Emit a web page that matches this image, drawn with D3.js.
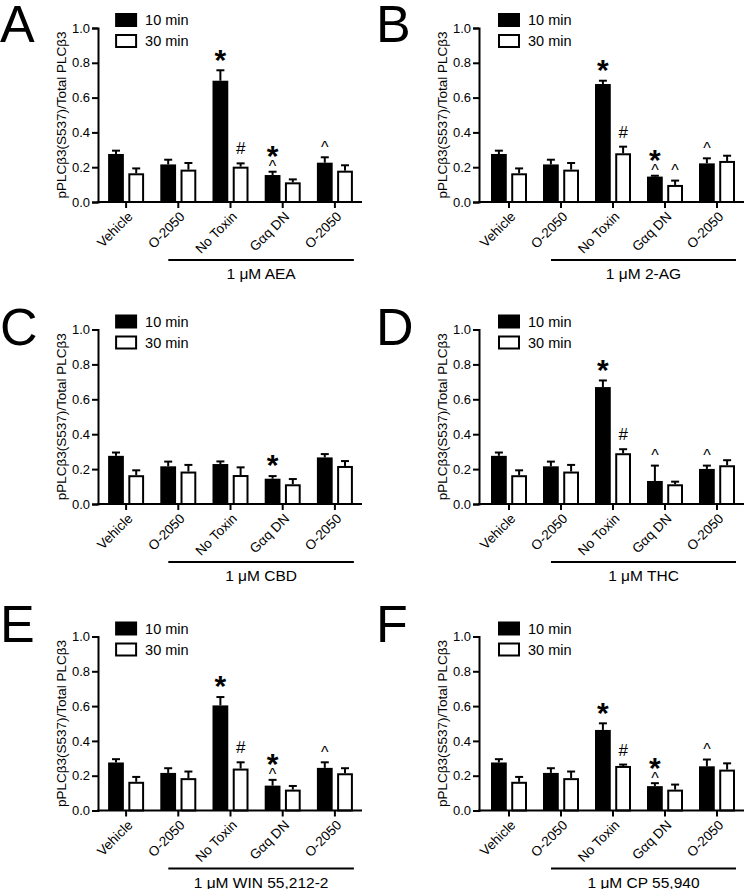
<!DOCTYPE html>
<html>
<head>
<meta charset="utf-8">
<script src="https://cdn.jsdelivr.net/npm/d3@7"></script>
<style>
  html, body { margin: 0; padding: 0; background: #fff; }
  svg { display: block; font-family: "Liberation Sans", Arial, Helvetica, sans-serif; }
</style>
</head>
<body>
<svg id="chart" width="745" height="889"></svg>
<script>
// ---------------- DATA ----------------
const categories = ["Vehicle", "O-2050", "No Toxin", "G\u03B1q DN", "O-2050"];
const series = ["10 min", "30 min"];
const yTicks = [0.0, 0.2, 0.4, 0.6, 0.8, 1.0];
const panelLetters = ["A", "B", "C", "D", "E", "F"];
const treatments = ["1 \u03BCM AEA", "1 \u03BCM 2-AG", "1 \u03BCM CBD", "1 \u03BCM THC", "1 \u03BCM WIN 55,212-2", "1 \u03BCM CP 55,940"];
const yLabel = "pPLC\u03B23(S537)/Total PLC\u03B23";

// means, one row per panel (A..F), one value per category
const mean10 = [
  [0.276, 0.216, 0.697, 0.155, 0.226],
  [0.276, 0.216, 0.678, 0.146, 0.222],
  [0.276, 0.216, 0.229, 0.145, 0.267],
  [0.276, 0.216, 0.670, 0.132, 0.201],
  [0.276, 0.216, 0.604, 0.143, 0.245],
  [0.276, 0.216, 0.463, 0.140, 0.254]
];
const err10 = [
  [0.019, 0.027, 0.060, 0.019, 0.031],
  [0.019, 0.027, 0.019, 0.005, 0.029],
  [0.019, 0.027, 0.015, 0.015, 0.019],
  [0.019, 0.027, 0.038, 0.088, 0.019],
  [0.019, 0.027, 0.048, 0.033, 0.032],
  [0.019, 0.027, 0.038, 0.017, 0.039]
];
const mean30 = [
  [0.165, 0.186, 0.203, 0.113, 0.180],
  [0.165, 0.186, 0.280, 0.098, 0.236],
  [0.165, 0.186, 0.166, 0.113, 0.218],
  [0.165, 0.186, 0.291, 0.113, 0.222],
  [0.165, 0.186, 0.241, 0.120, 0.214],
  [0.165, 0.186, 0.256, 0.120, 0.235]
];
const err30 = [
  [0.028, 0.038, 0.019, 0.017, 0.031],
  [0.028, 0.038, 0.038, 0.025, 0.030],
  [0.028, 0.038, 0.044, 0.030, 0.028],
  [0.028, 0.038, 0.023, 0.015, 0.029],
  [0.028, 0.038, 0.036, 0.021, 0.029],
  [0.028, 0.038, 0.008, 0.029, 0.036]
];
// significance marks ("*^" = asterisk stacked over caret)
const marks10 = [
  ["", "", "*", "*^", "^"],
  ["", "", "*", "*^", "^"],
  ["", "", "", "*", ""],
  ["", "", "*", "^", "^"],
  ["", "", "*", "*^", "^"],
  ["", "", "*", "*^", "^"]
];
const marks30 = [
  ["", "", "#", "", ""],
  ["", "", "#", "^", ""],
  ["", "", "", "", ""],
  ["", "", "#", "", ""],
  ["", "", "#", "", ""],
  ["", "", "#", "", ""]
];

// ---------------- LAYOUT ----------------
const cols = [
  { axisX: 98, range: [100, 361], letterX: 0 },
  { axisX: 479, range: [483, 743], letterX: 376 }
];
const rows = [
  { top: 28, bottom: 202, letterY: 42 },
  { top: 329.5, bottom: 504, letterY: 345 },
  { top: 636.5, bottom: 810.5, letterY: 642 }
];

const svg = d3.select("#chart");

function markCenterOffset(ch) { // glyph vertical center above baseline, in em
  if (ch === "*") return 0.58;
  if (ch === "^") return 0.52;
  return 0.35;
}

panelLetters.forEach((letter, p) => {
  const col = cols[p % 2], row = rows[Math.floor(p / 2)];
  const g = svg.append("g");

  const y = d3.scaleLinear().domain([0, 1]).range([row.bottom, row.top]);
  const x = d3.scaleBand().domain(d3.range(categories.length)).range(col.range).paddingInner(0).paddingOuter(0);
  const xs = d3.scaleBand().domain(series).range([-18, 18]).paddingInner(0.22);
  const cx = i => x(i) + x.bandwidth() / 2;

  // Panel letter
  g.append("text").attr("x", col.letterX).attr("y", row.letterY)
    .attr("font-size", 52).attr("fill", "#000").text(letter);

  // Y axis
  const yAxis = g.append("g").attr("transform", `translate(${col.axisX},0)`)
    .call(d3.axisLeft(y).tickValues(yTicks).tickFormat(d3.format(".1f")).tickSizeOuter(0).tickSize(6).tickPadding(2));
  yAxis.select(".domain").attr("stroke", "#000").attr("stroke-width", 2);
  yAxis.selectAll(".tick line").attr("stroke", "#000").attr("stroke-width", 2);
  yAxis.selectAll(".tick text").attr("font-size", 13).attr("font-family", "Liberation Sans, Arial, sans-serif").attr("fill", "#000");

  // Y label
  g.append("text")
    .attr("transform", `translate(${col.axisX - 32},${(row.top + row.bottom) / 2}) rotate(-90)`)
    .attr("text-anchor", "middle").attr("font-size", 13.5).attr("fill", "#000").text(yLabel);

  // Bars
  const bars = [
    { s: series[0], m: mean10[p], e: err10[p], mk: marks10[p], fill: "#000" },
    { s: series[1], m: mean30[p], e: err30[p], mk: marks30[p], fill: "#fff" }
  ];
  bars.forEach(b => {
    const data = b.m.map((v, i) => ({ i, v, e: b.e[i], mk: b.mk[i] }));
    const bw = xs.bandwidth();
    // error bars (upper only)
    const eg = g.append("g").attr("stroke", "#000").attr("stroke-width", 2);
    eg.selectAll("line.v").data(data).join("line")
      .attr("x1", d => cx(d.i) + xs(b.s) + bw / 2).attr("x2", d => cx(d.i) + xs(b.s) + bw / 2)
      .attr("y1", d => y(d.v)).attr("y2", d => y(d.v + d.e));
    eg.selectAll("line.c").data(data).join("line")
      .attr("x1", d => cx(d.i) + xs(b.s) + bw / 2 - 4).attr("x2", d => cx(d.i) + xs(b.s) + bw / 2 + 4)
      .attr("y1", d => y(d.v + d.e)).attr("y2", d => y(d.v + d.e));
    // bars
    if (b.fill === "#000") {
      g.selectAll(null).data(data).join("rect")
        .attr("x", d => cx(d.i) + xs(b.s)).attr("width", bw)
        .attr("y", d => y(d.v)).attr("height", d => y(0) - y(d.v))
        .attr("fill", "#000");
    } else {
      g.selectAll(null).data(data).join("rect")
        .attr("x", d => cx(d.i) + xs(b.s) + 1).attr("width", bw - 2)
        .attr("y", d => y(d.v) + 1).attr("height", d => y(0) - y(d.v) - 1)
        .attr("fill", "#fff").attr("stroke", "#000").attr("stroke-width", 2);
    }
    // significance marks
    data.filter(d => d.mk).forEach(d => {
      const mx = cx(d.i) + xs(b.s) + bw / 2;
      const top = y(d.v + d.e);
      const chars = d.mk.split("");
      chars.slice().reverse().forEach((ch) => {
        let fs, gap, bold;
        if (ch === "*") { fs = 30; bold = true; gap = chars.length > 1 ? 23 : 18; }
        else if (ch === "^") { fs = 16; bold = false; gap = chars.length > 1 ? 8 : 13; }
        else { fs = 17; bold = false; gap = 15; }
        const centerY = top - gap;
        g.append("text").attr("x", mx).attr("y", centerY + markCenterOffset(ch) * fs)
          .attr("text-anchor", "middle").attr("font-size", fs)
          .attr("font-weight", bold ? "bold" : "normal").attr("fill", "#000").text(ch);
      });
    });
  });

  // X axis
  g.append("line").attr("x1", col.axisX - 1).attr("x2", col.range[1] + 1)
    .attr("y1", y(0)).attr("y2", y(0)).attr("stroke", "#000").attr("stroke-width", 2);
  const xAxis = g.append("g").attr("transform", `translate(0,${y(0)})`)
    .call(d3.axisBottom(x).tickSize(6).tickSizeOuter(0).tickFormat(i => categories[i]));
  xAxis.select(".domain").remove();
  xAxis.selectAll(".tick line").attr("stroke", "#000").attr("stroke-width", 2);
  xAxis.selectAll(".tick text")
    .attr("font-size", 13.5).attr("font-family", "Liberation Sans, Arial, sans-serif").attr("fill", "#000")
    .attr("text-anchor", "end").attr("x", 0).attr("y", 0).attr("dy", "0.35em")
    .attr("transform", "translate(4,12) rotate(-45)");

  // Treatment bracket
  const bx1 = cx(1) - 10, bx2 = cx(4) + 19;
  g.append("line").attr("x1", bx1).attr("x2", bx2).attr("y1", row.bottom + 58).attr("y2", row.bottom + 58)
    .attr("stroke", "#000").attr("stroke-width", 2);
  g.append("text").attr("x", (bx1 + bx2) / 2).attr("y", row.bottom + 77)
    .attr("text-anchor", "middle").attr("font-size", 15.5).attr("fill", "#000").text(treatments[p]);

  // Legend
  const lx = cx(0) - 11;
  g.append("rect").attr("x", lx).attr("y", row.top - 15).attr("width", 22).attr("height", 14).attr("fill", "#000");
  g.append("rect").attr("x", lx + 1).attr("y", row.top + 7).attr("width", 20).attr("height", 12)
    .attr("fill", "#fff").attr("stroke", "#000").attr("stroke-width", 2);
  g.append("text").attr("x", lx + 30).attr("y", row.top - 8 + 5).attr("font-size", 14.5).attr("fill", "#000").text(series[0]);
  g.append("text").attr("x", lx + 30).attr("y", row.top + 13 + 5).attr("font-size", 14.5).attr("fill", "#000").text(series[1]);
});
</script>
</body>
</html>
